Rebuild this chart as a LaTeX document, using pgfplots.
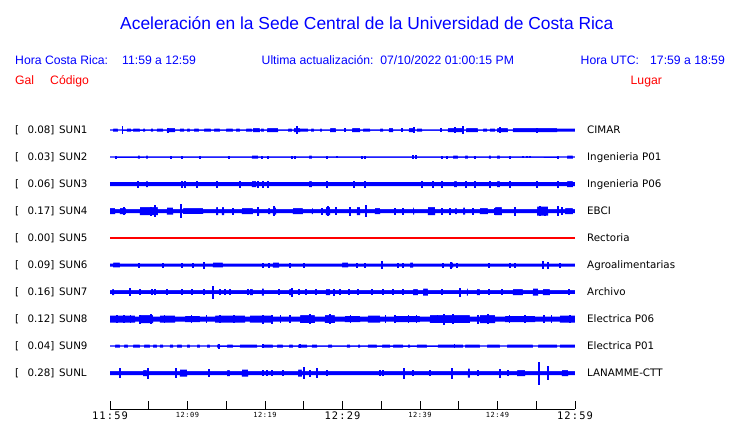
\documentclass[border=0pt]{standalone}
\usepackage{pgfplots}
\pgfplotsset{compat=1.18}
\usepackage{pgfplotstable}
\usepackage{fontspec}
\setmainfont{Liberation Sans}
\newfontfamily\dv{DejaVu Sans}
\newfontfamily\tickfont[LetterSpace=11]{DejaVu Sans Mono}
\newfontfamily\tickfontsm[LetterSpace=8]{DejaVu Sans Mono}
\definecolor{tblue}{RGB}{0,0,255}
\definecolor{tred}{RGB}{255,0,0}
\newcommand{\bt}[1]{{\tickfont\fontsize{10.4bp}{12bp}\selectfont #1}}
\newcommand{\smt}[1]{{\tickfontsm\fontsize{7bp}{8bp}\selectfont #1}}

% ---------- envelopes (minutes after 11:59, half-amplitude in px) and spikes ----------
\pgfplotstableread{
m a
0 0.6
0.39 1.5
1.03 0.6
2.19 1.5
2.71 0.6
2.97 1.5
3.87 0.6
4.26 1.5
4.52 0.6
5.29 1.5
5.55 0.6
6.06 1.5
6.84 0.6
7.35 2
8.39 0.6
9.03 1.5
9.55 0.6
9.94 1.5
10.32 0.6
10.84 1.5
11.48 0.6
12.13 1.5
13.03 0.6
13.42 1.5
14.19 0.6
14.97 1.5
15.87 0.6
16.26 1.5
16.77 0.6
17.55 1.5
18.32 0.6
18.45 2
19.35 0.6
19.48 1.5
19.87 0.6
20.26 2
21.68 0.6
22.97 1.5
23.48 0.6
23.74 2
24.52 1.5
25.55 0.6
25.94 1.5
26.32 0.6
27.1 1.5
27.35 0.6
28.39 2
29.16 0.6
31.23 2
32.26 0.6
32.65 1.5
33.55 0.6
34.84 1.5
35.23 0.6
36.0 2
36.52 0.6
38.58 2
39.1 0.6
39.61 1.5
40.26 0.6
43.61 2
45.42 0.6
45.94 2
47.48 0.6
48.13 1.5
48.65 0.6
49.03 1.5
49.68 0.6
49.94 2
51.35 0.6
52.0 2
57.68 1.5
60 1.5
}\EnvA
\pgfplotstableread{
m a
1.64 4
7.48 2.5
24.13 4
30.32 2
37.68 2
39.23 3
42.71 2
44.52 3
45.55 4
50.32 3
55.1 2.5
}\SpkA

\pgfplotstableread{
m a
0 0.6
3.61 1.5
3.87 0.6
4.65 1.5
4.9 0.6
18.32 1.5
19.1 0.6
25.68 1.5
26.06 0.6
44.26 1.5
44.9 0.6
45.81 1.5
46.19 0.6
48.9 1.5
49.16 0.6
49.94 1.5
50.32 0.6
58.97 1.5
59.74 0.6
60 0.6
}\EnvB
\pgfplotstableread{
m a
0.77 1.5
7.87 1.5
9.29 1.5
11.61 1.5
15.35 1.5
19.61 1.5
20.39 1.5
23.48 1.5
23.87 1.5
28.0 1.5
29.29 1.2
32.52 1.5
32.9 1.5
39.1 2
39.48 2
42.84 1.5
43.48 1.5
47.1 1.5
51.61 1.5
53.29 1.2
53.81 1.2
54.19 1.2
57.81 1.5
}\SpkB

\pgfplotstableread{
m a
0 2.1
4.65 3
4.9 2.1
18.32 3
18.84 2.1
25.68 3
26.06 2.1
44.39 3
44.77 2.1
49.94 3
50.32 2.1
58.97 3
59.74 2.1
60 2.1
}\EnvC
\pgfplotstableread{
m a
3.61 3.5
9.29 3.5
9.68 3.5
11.23 3.5
13.81 3.5
16.77 3.5
19.1 3.5
19.74 3.5
20.39 3.5
28.0 3.5
31.48 3.5
32.9 3.5
40.26 3.5
41.68 3.5
42.84 3.5
45.94 3.5
47.1 3.5
49.03 3.5
51.61 3.5
55.1 3.5
57.81 3.5
}\SpkC

\pgfplotstableread{
m a
0 3
0.65 2
1.29 3
2.06 2
3.87 4
6.19 2
7.35 3.5
8.13 2
9.42 2.8
12.0 2
13.68 4
13.94 2
14.45 4
14.71 2
17.03 3
18.45 2
18.97 4
19.23 2
20.39 3
20.65 2
21.03 3.5
21.42 2
23.61 3
24.9 2
26.06 3
26.19 2
27.87 4
28.39 2
31.87 4
32.26 2
34.19 3
34.84 2
39.1 3.5
39.23 2
41.03 4
41.94 2
44.52 3
44.77 2
45.55 3.5
45.81 2
47.74 3
48.77 2
49.68 4
50.58 2
55.1 4.5
56.52 2
58.71 3
59.74 2
60 2
}\EnvD
\pgfplotstableread{
m a
1.81 4
5.29 4.5
5.81 6
9.16 7
15.87 3.5
19.1 4.5
21.16 5
27.35 3.5
28.13 5
29.16 4
30.97 4.5
33.03 6
36.77 3.5
37.81 3.5
42.84 3.5
43.87 3.5
46.84 3.5
49.68 3.5
52.26 4.5
55.48 5
56.13 4.5
57.81 5
58.32 4
}\SpkD

\pgfplotstableread{
m a
0 1.5
0.39 2.3
1.29 1.5
13.29 2.3
14.58 1.5
21.03 2.5
21.81 1.5
29.94 2.3
30.71 1.5
38.71 2.5
39.1 1.5
43.87 2.5
44.26 1.5
60 1.5
}\EnvF
\pgfplotstableread{
m a
3.74 2.5
6.84 2.5
9.29 2.5
10.71 2.5
12.13 3.5
19.74 2.5
20.52 2.5
23.23 2.5
25.03 2.5
31.87 2.5
32.9 2.5
35.1 4
37.16 2.5
37.81 2.5
42.97 2.5
44.0 3.5
44.77 2.5
48.9 2.5
51.61 2.5
52.26 2.5
55.87 4
56.52 3.5
58.06 2.5
}\SpkF

\pgfplotstableread{
m a
0 1.8
0.26 3
0.52 1.8
18.06 3
18.45 1.8
19.61 3.5
19.87 1.8
23.1 3
23.61 1.8
27.87 3
28.39 1.8
39.1 3
39.74 1.8
40.39 3.5
41.03 1.8
46.06 3.5
46.19 1.8
47.35 3
47.74 1.8
52.0 3
53.29 1.8
54.58 3.5
55.23 1.8
55.87 3
56.77 1.8
60 1.8
}\EnvG
\pgfplotstableread{
m a
2.58 4
3.87 3
5.42 3
5.81 3
7.35 3
9.29 3
10.58 3
12.13 3
13.29 6.5
14.19 3
14.84 3
15.48 3
17.81 3
21.81 3
23.48 4.5
24.39 3
25.29 3
26.58 3
28.9 3.5
29.68 3
30.84 3
32.0 3
33.81 3
35.23 3
36.52 3
37.81 3
42.84 3
45.16 4.5
48.9 3
50.58 3
59.23 3
}\SpkG

\pgfplotstableread{
m a
0 3.5
3.23 2.5
3.87 4
5.55 2.5
6.45 3.5
8.39 2.5
9.68 3.2
11.61 2.5
13.55 3.5
17.42 2.5
18.06 3.5
21.03 2.5
24.52 3.8
26.45 2.5
27.74 3.8
29.03 2.5
30.32 3.2
32.26 2.5
33.29 3.5
34.84 2.5
36.77 3.2
40.0 2.5
41.29 3.8
46.45 2.5
47.74 4
49.68 2.5
50.97 3.2
54.84 2.5
58.06 3.5
60 3.5
}\EnvH
\pgfplotstableread{
m a
0.9 3.8
1.8 3.8
2.6 3.8
3.87 4.5
5.29 5
7.0 3.8
10.5 3.8
12.5 3.8
14.19 4
16.0 3.8
19.74 4.5
20.9 4.5
22.0 3.8
23.23 4
25.81 5
28.39 5
31.0 3.8
35.5 3.8
36.77 4
38.5 3.8
39.5 3.8
42.3 3.8
43.1 5.5
44.26 5
47.48 4.5
48.77 5
51.5 3.8
53.55 4
56.0 3.8
57.0 3.8
59.35 4
}\SpkH

\pgfplotstableread{
m a
0 0.7
0.65 1.5
1.29 0.7
1.81 1.5
2.32 0.7
2.97 1.5
3.87 0.7
4.39 1.5
5.16 0.7
5.55 1.5
6.06 0.7
6.45 1.5
6.84 0.7
7.74 1.5
8.13 0.7
8.65 1.5
9.29 0.7
9.94 1.5
10.32 0.7
11.23 1.5
11.61 0.7
12.52 1.5
12.9 0.7
13.81 1.5
14.19 0.7
15.1 1.5
15.87 0.7
16.77 1.5
18.97 0.7
19.61 1.5
21.03 0.7
21.55 1.5
22.32 0.7
23.1 1.5
23.61 0.7
24.26 1.5
25.42 0.7
26.06 1.5
26.71 0.7
28.13 1.5
28.65 0.7
30.58 1.5
30.97 0.7
32.0 1.5
32.26 0.7
33.29 1.5
34.45 0.7
35.1 1.5
36.13 0.7
36.52 1.5
37.81 0.7
38.45 1.5
38.71 0.7
39.61 1.5
40.9 0.7
42.32 1.5
45.55 0.7
45.81 1.5
47.74 0.7
48.65 1.5
50.32 0.7
51.23 1.5
54.58 0.7
55.23 1.5
57.68 0.7
58.06 1.5
60 1.5
}\EnvI
\pgfplotstableread{
m a
14.06 2.5
19.74 2
24.52 2
44.5 2
}\SpkI

\pgfplotstableread{
m a
0 2
4.26 3
4.77 2
9.03 3.5
9.94 2
15.1 3
15.48 2
17.03 3.5
17.81 2
24.26 3.5
24.77 2
46.19 4.5
46.45 2
52.52 3
53.55 2
58.32 3
59.1 2
60 2
}\EnvJ
\pgfplotstableread{
m a
1.29 5
4.9 5.5
8.52 5
12.77 4
19.74 3
20.26 3
20.9 3
22.32 3
25.03 6
25.81 3.5
26.71 5
28.0 3
34.84 3
35.23 3
37.94 5.5
39.1 3
41.29 3
44.13 5.5
47.48 3
50.32 4.5
51.35 3
55.35 11.5
56.52 7
}\SpkJ

% band of a trace: blue to the lower edge, then white to the upper edge
% (traces are drawn from the bottom one upward, so lower traces are never touched)
\newcommand{\env}[2]{%
  \addplot[fill=tblue, draw=none, const plot] table[x=m, y expr=#1+\thisrow{a}] {#2} \closedcycle;
  \addplot[fill=white, draw=none, const plot] table[x=m, y expr=#1-\thisrow{a}] {#2} \closedcycle;
}
\newcommand{\spk}[2]{%
  \addplot[tblue, line width=0.4bp, mark=none, error bars/.cd, y dir=both, y explicit,
    error mark=none, error bar style={draw=tblue, line width=1.1bp}]
    table[x=m, y expr=#1, y error=a] {#2};
}
\newcommand{\lab}[4]{%
  \node[lbl] at (15bp,#1bp) {[};
  \node[lbl] at (27.3bp,#1bp) {#2]};
  \node[lbl] at (59bp,#1bp) {#3};
  \node[lbl] at (587bp,#1bp) {#4};
}

\begin{document}
\begin{tikzpicture}[
  lbl/.style={anchor=base west, inner sep=0pt, font=\dv\fontsize{10.3bp}{12bp}\selectfont},
  hd/.style={anchor=base west, inner sep=0pt, text=tblue, font=\fontsize{12.2bp}{14bp}\selectfont},
  rd/.style={anchor=base west, inner sep=0pt, text=tred, font=\fontsize{12.2bp}{14bp}\selectfont}]
\useasboundingbox (0bp,0bp) rectangle (740bp,423bp);
\fill[white] (0bp,0bp) rectangle (740bp,423bp);

% traces
\begin{axis}[at={(110bp,0bp)}, anchor=south west, scale only axis,
  width=465bp, height=423bp, xmin=0, xmax=60, ymin=0, ymax=423,
  y dir=reverse, hide axis]
\env{373}{\EnvJ}
\env{346}{\EnvI}
\env{319}{\EnvH}
\env{292}{\EnvG}
\env{265}{\EnvF}
\env{211}{\EnvD}
\env{184}{\EnvC}
\env{157}{\EnvB}
\env{130}{\EnvA}
\spk{130}{\SpkA}
\spk{157}{\SpkB}
\spk{184}{\SpkC}
\spk{211}{\SpkD}
\spk{265}{\SpkF}
\spk{292}{\SpkG}
\spk{319}{\SpkH}
\spk{346}{\SpkI}
\spk{373}{\SpkJ}
\addplot[tred, line width=1.3bp] coordinates {(0,238) (60,238)};
\end{axis}

% time axis
\begin{axis}[at={(110bp,14bp)}, anchor=south west, scale only axis,
  width=465bp, height=10bp, xmin=0, xmax=60, ymin=0, ymax=1,
  axis x line=bottom, axis y line=none,
  axis line style={-, black, line width=0.8bp},
  xtick={0,5,...,60}, tick align=inside, major tick length=8bp,
  xtick style={black, line width=0.8bp},
  xticklabels={\bt{11:59},,\smt{12:09},,\smt{12:19},,\bt{12:29},,\smt{12:39},,\smt{12:49},,\bt{12:59}},
  xticklabel style={anchor=north, inner sep=0pt, yshift=-3bp}]
\addplot[draw=none] coordinates {(0,0.5) (60,0.5)};
\end{axis}

% title and header
\node[anchor=base west, inner sep=0pt, text=tblue, font=\fontsize{17.4bp}{20bp}\selectfont] at (120bp,393bp)
  {Aceleración en la Sede Central de la Universidad de Costa Rica};
\node[hd] at (15bp,358bp) {Hora Costa Rica:};
\node[hd] at (122bp,358bp) {11:59 a 12:59};
\node[hd] at (261.5bp,358bp) {Ultima actualización:\ \ 07/10/2022 01:00:15 PM};
\node[hd] at (580.5bp,358bp) {Hora UTC:};
\node[hd] at (650bp,358bp) {17:59 a 18:59};
\node[rd] at (15bp,338bp) {Gal};
\node[rd] at (50bp,338bp) {Código};
\node[rd] at (630.5bp,338bp) {Lugar};

% labels
\lab{289}{0.08}{SUN1}{CIMAR}
\lab{262}{0.03}{SUN2}{Ingenieria P01}
\lab{235}{0.06}{SUN3}{Ingenieria P06}
\lab{208}{0.17}{SUN4}{EBCI}
\lab{181}{0.00}{SUN5}{Rectoria}
\lab{154}{0.09}{SUN6}{Agroalimentarias}
\lab{127}{0.16}{SUN7}{Archivo}
\lab{100}{0.12}{SUN8}{Electrica P06}
\lab{73}{0.04}{SUN9}{Electrica P01}
\lab{46}{0.28}{SUNL}{LANAMME-CTT}
\end{tikzpicture}
\end{document}
